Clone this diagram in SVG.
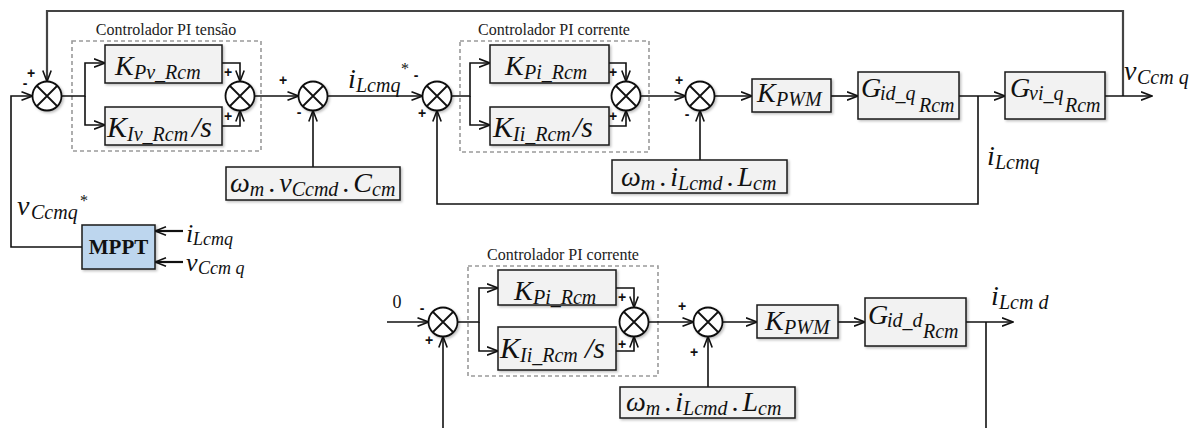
<svg xmlns="http://www.w3.org/2000/svg" width="1198" height="428" viewBox="0 0 1198 428">
  <defs>
    <marker id="arrow" viewBox="0 0 12 10" refX="11.5" refY="5" markerWidth="12" markerHeight="10" markerUnits="userSpaceOnUse" orient="auto">
      <path d="M0.5,0.8 L11.5,5 L0.5,9.2" fill="none" stroke="#111" stroke-width="1.6"/>
    </marker>
    <filter id="shadow" x="-10%" y="-10%" width="130%" height="150%">
      <feDropShadow dx="1.5" dy="1.5" stdDeviation="1" flood-color="#000" flood-opacity="0.25"/>
    </filter>
    <g id="sumShape">
      <circle r="14.5" fill="#fff" stroke="#111" stroke-width="1.8" filter="url(#shadow)"/>
      <path d="M-10.25,-10.25 L10.25,10.25 M10.25,-10.25 L-10.25,10.25" stroke="#111" stroke-width="1.8"/>
    </g>
  </defs>
  <style>
    .blk { fill: #f2f2f2; stroke: #1a1a1a; stroke-width: 1.5; filter: url(#shadow); }
    .mppt { fill: #bdd6ee; stroke: #1a1a1a; stroke-width: 1.5; filter: url(#shadow); }
    .pi { fill: none; stroke: #9a9a9a; stroke-width: 1.6; stroke-dasharray: 4 3; }
    .ln { fill: none; stroke: #111; stroke-width: 1.6; }
    .arr { marker-end: url(#arrow); }
    .fb { stroke: #444; stroke-width: 2.2; }
    .thick { stroke-width: 2.2; }
    .m { font-family: "Liberation Serif", serif; font-style: italic; font-size: 28px; fill: #111; }
    .big { font-size: 30px; }
    .sm { font-size: 26px; }
    .s { font-size: 20px; }
    .ss { font-size: 18px; }
    .n { font-style: normal; }
    .star { font-family: "Liberation Serif", serif; font-size: 16px; fill: #111; }
    .zero { font-family: "Liberation Serif", serif; font-size: 18px; fill: #111; text-anchor: middle; }
    .sg { font-family: "Liberation Sans", sans-serif; font-weight: bold; font-size: 14px; fill: #111; text-anchor: middle; }
    .cap { font-family: "Liberation Serif", serif; font-size: 16px; fill: #222; text-anchor: middle; }
    .bold { font-family: "Liberation Serif", serif; font-weight: bold; font-size: 21px; fill: #111; text-anchor: middle; }
  </style>

  <!-- PI controller frames -->
  <g id="pi-voltage">
    <rect class="pi" x="72" y="41" width="189" height="110"/>
    <text class="cap" x="166" y="35">Controlador PI tensão</text>
  </g>
  <g id="pi-current-q">
    <rect class="pi" x="460" y="41" width="189" height="111"/>
    <text class="cap" x="554" y="35">Controlador PI corrente</text>
  </g>
  <g id="pi-current-d">
    <rect class="pi" x="468" y="266" width="190" height="110"/>
    <text class="cap" x="563" y="260">Controlador PI corrente</text>
  </g>

  <!-- connectors -->
  <g id="connectors">
    <path class="ln fb arr" d="M1123,96 V11 H47 V81.5"/>
    <path class="ln arr" d="M82,247 H11 V96 H32.5"/>
    <path class="ln arr" d="M61.5,96 H85 V63 H105"/>
    <path class="ln arr" d="M85,96 V125 H105"/>
    <path class="ln arr" d="M222,63 H240 V81.5"/>
    <path class="ln arr" d="M222,126 H240 V110.5"/>
    <path class="ln arr" d="M254.5,96 H298.5"/>
    <path class="ln arr" d="M313,167 V110.5"/>
    <path class="ln arr" d="M327.5,96 H422.5"/>
    <path class="ln arr" d="M978,96 V204 H437 V110.5"/>
    <path class="ln arr" d="M451.5,96 H470 V63 H490"/>
    <path class="ln arr" d="M470,96 V125 H490"/>
    <path class="ln arr" d="M609,63 H626 V81.5"/>
    <path class="ln arr" d="M609,126 H626 V110.5"/>
    <path class="ln arr" d="M640.5,96 H685.5"/>
    <path class="ln arr" d="M700,160 V110.5"/>
    <path class="ln arr" d="M714.5,96 H752"/>
    <path class="ln arr" d="M831,96 H858"/>
    <path class="ln arr" d="M959,96 H1005"/>
    <path class="ln arr" d="M1105,96 H1152"/>
    <path class="ln thick arr" d="M183,231 H155"/>
    <path class="ln thick arr" d="M183,262 H155"/>

    <path class="ln arr" d="M387,322 H428.5"/>
    <path class="ln arr" d="M443,428 V336.5"/>
    <path class="ln arr" d="M457.5,322 H479 V288 H498"/>
    <path class="ln arr" d="M479,322 V351 H498"/>
    <path class="ln arr" d="M616,288 H634 V307.5"/>
    <path class="ln arr" d="M616,351 H634 V336.5"/>
    <path class="ln arr" d="M648.5,322 H693.5"/>
    <path class="ln arr" d="M708,387 V336.5"/>
    <path class="ln arr" d="M722.5,322 H757"/>
    <path class="ln arr" d="M838,322 H865"/>
    <path class="ln arr" d="M966,322 H1013"/>
    <path class="ln" d="M986,322 V428"/>
  </g>

  <!-- summing junctions, q axis -->
  <g id="sum-v">
    <use href="#sumShape" transform="translate(47,96)"/>
    <text class="sg" x="31" y="78">+</text>
    <text class="sg" x="25" y="88">-</text>
  </g>
  <g id="sum-pi-v">
    <use href="#sumShape" transform="translate(240,96)"/>
    <text class="sg" x="228" y="77">+</text>
    <text class="sg" x="228" y="121">+</text>
  </g>
  <g id="sum-ff-v">
    <use href="#sumShape" transform="translate(313,96)"/>
    <text class="sg" x="283" y="85">+</text>
    <text class="sg" x="299" y="117">-</text>
  </g>
  <g id="sum-iq">
    <use href="#sumShape" transform="translate(437,96)"/>
    <text class="sg" x="416" y="80">-</text>
    <text class="sg" x="422" y="118">+</text>
  </g>
  <g id="sum-pi-iq">
    <use href="#sumShape" transform="translate(626,96)"/>
    <text class="sg" x="613" y="77">+</text>
    <text class="sg" x="613" y="121">+</text>
  </g>
  <g id="sum-ff-iq">
    <use href="#sumShape" transform="translate(700,96)"/>
    <text class="sg" x="679" y="85">+</text>
    <text class="sg" x="687" y="119">-</text>
  </g>

  <!-- summing junctions, d axis -->
  <g id="sum-id">
    <use href="#sumShape" transform="translate(443,322)"/>
    <text class="sg" x="422" y="313">-</text>
    <text class="sg" x="429" y="345">+</text>
  </g>
  <g id="sum-pi-id">
    <use href="#sumShape" transform="translate(634,322)"/>
    <text class="sg" x="622" y="302">+</text>
    <text class="sg" x="622" y="349">+</text>
  </g>
  <g id="sum-ff-id">
    <use href="#sumShape" transform="translate(708,322)"/>
    <text class="sg" x="682" y="311">+</text>
    <text class="sg" x="694" y="357">+</text>
  </g>

  <!-- voltage PI gains -->
  <g id="kp-v">
    <rect class="blk" x="105" y="45" width="117" height="38"/>
    <text class="m" x="115" y="75">K<tspan class="s" x="134" y="79">Pv_Rcm</tspan></text>
  </g>
  <g id="ki-v">
    <rect class="blk" x="105" y="107" width="117" height="38"/>
    <text class="m big" x="107" y="137">K<tspan class="s" x="127" y="141">Iv_Rcm</tspan><tspan x="192" y="137">/s</tspan></text>
  </g>

  <!-- q current PI gains -->
  <g id="kp-iq">
    <rect class="blk" x="490" y="45" width="119" height="38"/>
    <text class="m" x="505" y="75">K<tspan class="s" x="524" y="79">Pi_Rcm</tspan></text>
  </g>
  <g id="ki-iq">
    <rect class="blk" x="490" y="107" width="119" height="38"/>
    <text class="m big" x="493" y="137">K<tspan class="s" x="513" y="141">Ii_Rcm</tspan><tspan x="573" y="137">/s</tspan></text>
  </g>

  <!-- q plant chain -->
  <g id="kpwm-q">
    <rect class="blk" x="752" y="79" width="79" height="33"/>
    <text class="m" x="757" y="102">K<tspan class="s" x="776" y="106">PWM</tspan></text>
  </g>
  <g id="gid-q">
    <rect class="blk" x="858" y="72" width="101" height="47"/>
    <text class="m" x="861" y="97">G<tspan class="s" x="880" y="100">id_q</tspan><tspan class="s" x="919" y="112">Rcm</tspan></text>
  </g>
  <g id="gvi-q">
    <rect class="blk" x="1005" y="72" width="100" height="47"/>
    <text class="m" x="1010" y="97">G<tspan class="s" x="1029" y="100">vi_q</tspan><tspan class="s" x="1065" y="112">Rcm</tspan></text>
  </g>

  <!-- decoupling terms -->
  <g id="ff-v">
    <rect class="blk" x="226" y="167" width="174" height="33"/>
    <text class="m" x="230" y="192">ω<tspan class="s" dy="4">m</tspan><tspan class="n" dx="4" dy="-4">.</tspan><tspan dx="4">v</tspan><tspan class="s" dy="4">Ccmd</tspan><tspan class="n" dx="4" dy="-4">.</tspan><tspan dx="4">C</tspan><tspan class="s" dy="4">cm</tspan></text>
  </g>
  <g id="ff-iq">
    <rect class="blk" x="612" y="160" width="175" height="33"/>
    <text class="m" x="621" y="186">ω<tspan class="s" dy="4">m</tspan><tspan class="n" dx="4" dy="-4">.</tspan><tspan dx="4">i</tspan><tspan class="s" dy="4">Lcmd</tspan><tspan class="n" dx="4" dy="-4">.</tspan><tspan dx="4">L</tspan><tspan class="s" dy="4">cm</tspan></text>
  </g>

  <!-- MPPT -->
  <g id="mppt">
    <rect class="mppt" x="82" y="225" width="73" height="44"/>
    <text class="bold" x="118.5" y="254">MPPT</text>
  </g>

  <!-- d axis PI gains -->
  <g id="kp-id">
    <rect class="blk" x="498" y="270" width="118" height="35"/>
    <text class="m" x="514" y="300">K<tspan class="s" x="533" y="304">Pi_Rcm</tspan></text>
  </g>
  <g id="ki-id">
    <rect class="blk" x="498" y="327" width="118" height="43"/>
    <text class="m big" x="500" y="358">K<tspan class="s" x="520" y="362">Ii_Rcm</tspan><tspan x="585" y="358">/s</tspan></text>
  </g>

  <!-- d plant chain -->
  <g id="kpwm-d">
    <rect class="blk" x="757" y="305" width="81" height="33"/>
    <text class="m" x="765" y="330">K<tspan class="s" x="784" y="334">PWM</tspan></text>
  </g>
  <g id="gid-d">
    <rect class="blk" x="865" y="298" width="101" height="48"/>
    <text class="m" x="868" y="324">G<tspan class="s" x="887" y="327">id_d</tspan><tspan class="s" x="923" y="338">Rcm</tspan></text>
  </g>
  <g id="ff-id">
    <rect class="blk" x="620" y="387" width="175" height="31"/>
    <text class="m" x="626" y="411">ω<tspan class="s" dy="4">m</tspan><tspan class="n" dx="4" dy="-4">.</tspan><tspan dx="4">i</tspan><tspan class="s" dy="4">Lcmd</tspan><tspan class="n" dx="4" dy="-4">.</tspan><tspan dx="4">L</tspan><tspan class="s" dy="4">cm</tspan></text>
  </g>

  <!-- signal labels -->
  <g id="labels">
    <text class="m" x="348" y="88">i<tspan class="s" x="356" y="92">Lcmq</tspan></text>
    <text class="star" x="401" y="74">*</text>
    <text class="m" x="1124" y="80">v<tspan class="s" x="1137" y="84">Ccm q</tspan></text>
    <text class="m" x="987" y="165">i<tspan class="s" x="995" y="169">Lcmq</tspan></text>
    <text class="m" x="17" y="215">v<tspan class="s" x="31" y="219">Ccmq</tspan></text>
    <text class="star" x="80" y="206">*</text>
    <text class="m sm" x="186" y="242">i<tspan class="ss" x="193" y="245">Lcmq</tspan></text>
    <text class="m sm" x="186" y="271">v<tspan class="ss" x="198" y="274">Ccm q</tspan></text>
    <text class="zero" x="397" y="308">0</text>
    <text class="m" x="991" y="305">i<tspan class="s" x="999" y="309">Lcm d</tspan></text>
  </g>
</svg>
